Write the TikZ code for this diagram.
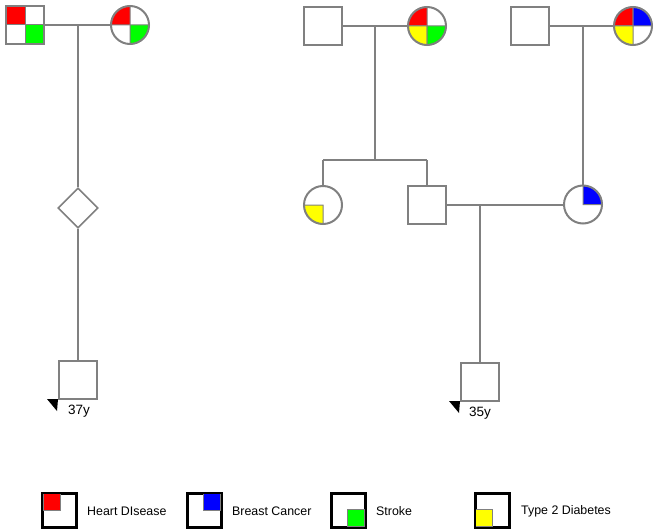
\documentclass[tikz,border=0pt]{standalone}
\usepackage{fontspec}
\setmainfont{Liberation Sans}
\usetikzlibrary{shapes.geometric}
\pgfdeclarelayer{bg}
\pgfsetlayers{bg,main}
\definecolor{lgray}{RGB}{128,128,128}
\definecolor{hd}{RGB}{255,0,0}
\definecolor{bc}{RGB}{0,0,255}
\definecolor{st}{RGB}{0,255,0}
\definecolor{td}{RGB}{255,255,0}
\tikzset{
  male/.style={draw=lgray,line width=2pt,rectangle,minimum size=38pt,inner sep=0pt},
  female/.style={draw=lgray,line width=2pt,circle,minimum size=38pt,inner sep=0pt},
  unknown/.style={draw=lgray,line width=1.6pt,diamond,aspect=1,minimum size=40pt,inner sep=0pt},
  rel/.style={draw=lgray,line width=2pt},
  legbox/.style={draw=black,line width=2pt,rectangle,minimum size=33pt,inner sep=0pt},
  legtext/.style={font=\fontsize{12.4pt}{14pt}\selectfont,anchor=west,inner sep=0pt},
  agetext/.style={font=\fontsize{13.5pt}{15pt}\selectfont,inner sep=0pt},
  qd/.style={draw=lgray,line width=1pt}
}
% circle quadrant: node, start angle, colour
\newcommand{\cq}[3]{\begin{pgfonlayer}{bg}\filldraw[qd,fill=#3] (#1.center) -- +(#2:19pt) arc[start angle=#2,end angle=#2+90,radius=19pt] -- cycle;\end{pgfonlayer}}
% square quadrant: node, x sign, y sign, colour
\newcommand{\sq}[4]{\begin{pgfonlayer}{bg}\filldraw[qd,fill=#4] (#1.center) rectangle +(#2 19pt,#3 19pt);\end{pgfonlayer}}
\begin{document}
\begin{tikzpicture}[x=1pt,y=-1pt]
\useasboundingbox (0,0) rectangle (661,532);
% generation I
\node[male] (A) at (25,25) {};
\node[female] (B) at (130,25) {};
\node[male] (C) at (323,26) {};
\node[female] (E) at (427,26) {};
\node[male] (H) at (530,26) {};
\node[female] (I) at (633,26) {};
% generation II
\node[unknown] (D) at (78,208) {};
\node[female] (F) at (323,205) {};
\node[male] (G) at (427,204.5) {};
\node[female] (J) at (583,204.5) {};
% generation III
\node[male] (P1) at (78,380) {};
\node[male] (P2) at (480,382) {};
% quadrants
\sq{A}{-}{}{hd}\sq{A}{}{-}{st}
\cq{B}{90}{hd}\cq{B}{270}{st}
\cq{E}{90}{hd}\cq{E}{180}{td}\cq{E}{270}{st}
\cq{I}{90}{hd}\cq{I}{0}{bc}\cq{I}{180}{td}
\cq{F}{180}{td}
\cq{J}{0}{bc}
% relationships
\coordinate (mAB) at (78,25);
\coordinate (mCE) at (375,26);
\coordinate (mHI) at (583,26);
\coordinate (mGJ) at (480,204.5);
\coordinate (s1) at (375,160);
\coordinate (sF) at (323,160);
\coordinate (sG) at (427,160);
\draw[rel] (A) -- (B);
\draw[rel] (mAB) -- (D);
\draw[rel] (D) -- (P1);
\draw[rel] (C) -- (E);
\draw[rel] (mCE) -- (s1);
\draw[rel] (sF) -- (sG);
\draw[rel] (sF) -- (F);
\draw[rel] (sG) -- (G);
\draw[rel] (H) -- (I);
\draw[rel] (mHI) -- (J);
\draw[rel] (G) -- (J);
\draw[rel] (mGJ) -- (P2);
% proband arrows
\fill[black] (P1.south west) ++(-11pt,1pt) -- ++(11pt,0pt) -- ++(-1pt,-12pt) -- cycle;
\fill[black] (P2.south west) ++(-11pt,1pt) -- ++(11pt,0pt) -- ++(-1pt,-12pt) -- cycle;
\node[agetext] (t1) at (79,411) {37y};
\node[agetext] (t2) at (480,413) {35y};
% legend
\node[legbox] (L1) at (59.5,510) {};
\node[legbox] (L2) at (204,510) {};
\node[legbox] (L3) at (348,510) {};
\node[legbox] (L4) at (492,510) {};
\filldraw[qd,fill=hd] (L1.center) ++(-16.5pt,16.5pt) rectangle ++(17pt,-17pt);
\filldraw[qd,fill=bc] (L2.center) ++(16.5pt,16.5pt) rectangle ++(-17pt,-17pt);
\filldraw[qd,fill=st] (L3.center) ++(16.5pt,-16.5pt) rectangle ++(-17pt,17pt);
\filldraw[qd,fill=td] (L4.center) ++(-16.5pt,-16.5pt) rectangle ++(17pt,17pt);
\draw[black,line width=2pt] (L1.north west) rectangle (L1.south east);
\draw[black,line width=2pt] (L2.north west) rectangle (L2.south east);
\draw[black,line width=2pt] (L3.north west) rectangle (L3.south east);
\draw[black,line width=2pt] (L4.north west) rectangle (L4.south east);
\node[legtext] (T1) at (87,511) {Heart DIsease};
\node[legtext] (T2) at (232,511) {Breast Cancer};
\node[legtext] (T3) at (376,511) {Stroke};
\node[legtext] (T4) at (521,511) {Type 2 Diabetes};
\end{tikzpicture}
\end{document}
